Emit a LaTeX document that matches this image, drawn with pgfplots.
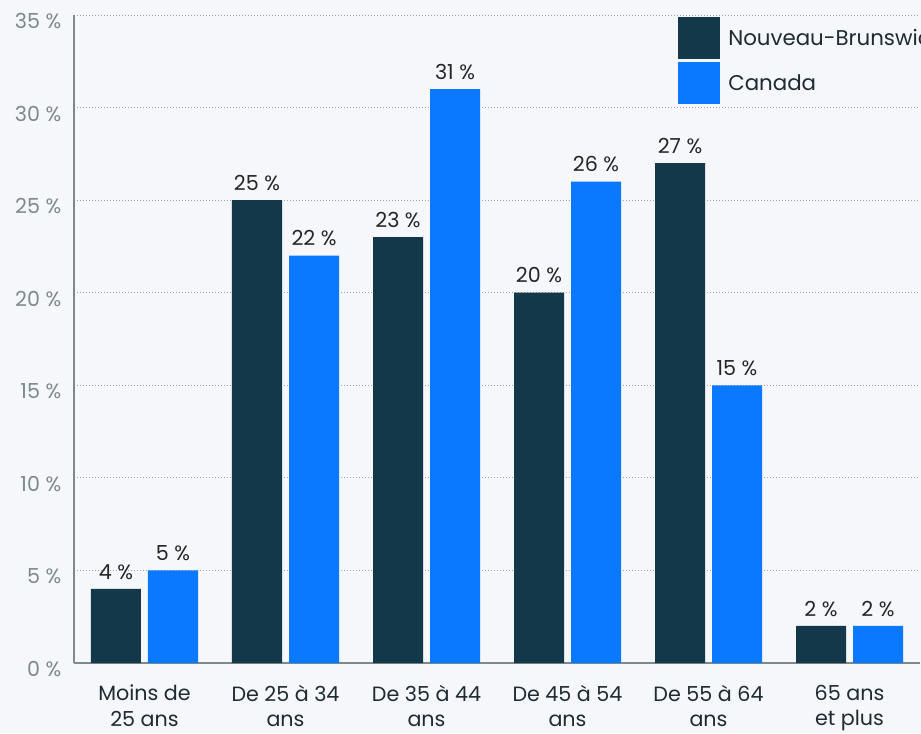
\documentclass[border=0pt]{standalone}
\usepackage{pgfplots}
\pgfplotsset{compat=1.18}
\usepackage{fontspec}
\setmainfont{Poppins}
\definecolor{nbdark}{HTML}{12384A}
\definecolor{cablue}{HTML}{0A78FF}
\definecolor{bg}{HTML}{F5F7FA}
\definecolor{gridc}{HTML}{9AA5A8}
\definecolor{tickc}{HTML}{7D8A8C}
\definecolor{labc}{HTML}{1E2B32}
\begin{document}
\begin{tikzpicture}[x=1pt,y=1pt]
\path[use as bounding box, fill=bg] (-55.5,-52.5) rectangle (635.25,497.25);
\clip (-55.5,-52.5) rectangle (635.25,497.25);
\begin{axis}[
  at={(0,0)}, anchor=south west,
  scale only axis, width=634.5pt, height=486pt,
  ymin=0, ymax=35, xmin=-0.5, xmax=5.5,
  ybar=5.25pt, bar width=37.5pt,
  ytick={0,5,...,35},
  yticklabel={\pgfmathprintnumber{\tick}~\%},
  yticklabel style={font=\fontsize{15.5}{18}\selectfont, text=tickc, anchor=east, xshift=-6pt, yshift=-4.5pt},
  xtick={0,...,5},
  xticklabels={{Moins de\\25 ans},{De 25 à 34\\ans},{De 35 à 44\\ans},{De 45 à 54\\ans},{De 55 à 64\\ans},{65 ans\\et plus}},
  xticklabel style={align=center, font=\fontsize{15.5}{19}\selectfont, text=labc, anchor=north, yshift=-13pt},
  /pgf/number format/assume math mode=true,
  ymajorgrids, grid style={dash pattern=on 0.75pt off 1.5pt, gridc, line width=0.6pt},
  axis x line*=bottom, axis y line*=left,
  axis line style={tickc, -, line width=0.9pt},
  major tick length=0pt,
  nodes near coords={\pgfmathprintnumber{\pgfplotspointmeta}~\%},
  nodes near coords style={font=\fontsize{15.5}{18}\selectfont, text=black!85, anchor=south, inner sep=0pt, yshift=7pt},
  legend style={at={(rel axis cs:0.714,0.9969)}, anchor=north west, draw=none, fill=none, inner sep=0pt,
    row sep=2.25pt, nodes={inner sep=0pt}, font=\fontsize{16}{18}\selectfont, text=labc},
  legend cell align=left,
  legend image code/.code={\fill[#1] (0pt,-15.75pt) rectangle (31.5pt,15.75pt);},
]
\addplot[fill=nbdark, draw=none] coordinates {(0,4) (1,25) (2,23) (3,20) (4,27) (5,2)};
\addplot[fill=cablue, draw=none] coordinates {(0,5) (1,22) (2,31) (3,26) (4,15) (5,2)};
\legend{\hspace*{6pt}Nouveau-Brunswick, \hspace*{6pt}Canada}
\end{axis}
\end{tikzpicture}
\end{document}
